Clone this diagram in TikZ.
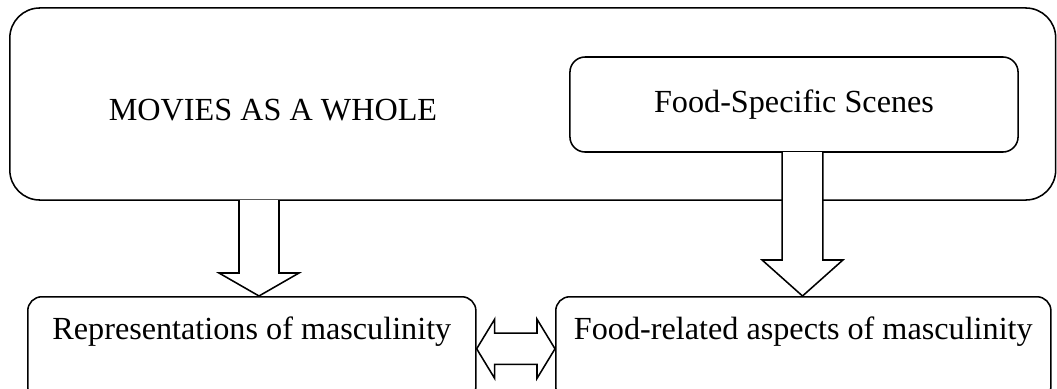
\documentclass[tikz,border=0pt]{standalone}
\usepackage{fontspec}
\setmainfont{Liberation Serif}
\usetikzlibrary{positioning, calc}
\tikzstyle{outer} = [rectangle, rounded corners=0.75cm, draw=black, line width=1.1pt, minimum width=26.14cm, minimum height=4.8cm, inner sep=0pt]
\tikzstyle{scenes} = [rectangle, rounded corners=0.38cm, draw=black, line width=1.1pt, minimum width=11.2cm, minimum height=2.375cm, inner sep=0pt]
\tikzstyle{result} = [rectangle, rounded corners=0.35cm, draw=black, line width=1.1pt, inner sep=0pt, text height=1.075cm, text depth=1.525cm, anchor=north west]
\tikzstyle{block_arrow} = [draw=black, fill=white, line width=1.1pt, line join=miter]
\newcommand{\blockdown}[5]{%
  \draw [block_arrow] let \p1 = (#1), \p2 = (#1 |- #2) in
    (\x1-#3, \y1) -- (\x1-#3, \y2+#5) -- (\x1-#4, \y2+#5) -- (\x1, \y2)
    -- (\x1+#4, \y2+#5) -- (\x1+#3, \y2+#5) -- (\x1+#3, \y1);
}

\begin{document}
\begin{tikzpicture}[x=0.025cm, y=-0.025cm, font=\fontsize{22.9}{27}\selectfont]

    \useasboundingbox (0,0) rectangle (1057,388);

    \node (whole) [outer] at (532.75,104) {};
    \node (wholelabel) at (273,110) {MOVIES AS A WHOLE};
    \node (scenes) [scenes] at (794,104.5) {Food-Specific Scenes};

    \node (rep) [result, minimum width=11.2cm] at (27,296) {Representations of masculinity};
    \node (food) [result, minimum width=12.375cm] at (555,296) {Food-related aspects of masculinity};

    \coordinate (wholeout) at (259,200);
    \coordinate (scenesout) at (802.5,152);

    \blockdown{wholeout}{rep.north}{0.5cm}{1.0cm}{0.575cm}
    \blockdown{scenesout}{food.north}{0.51cm}{1.01cm}{0.9cm}

    % two-way arrow between the results
    \draw [block_arrow] let \p1 = (rep.east), \p2 = (food.west) in
        (\x1, \y1) -- (\x1+0.45cm, \y1+0.74cm) -- (\x1+0.45cm, \y1+0.39cm)
        -- (\x2-0.45cm, \y1+0.39cm) -- (\x2-0.45cm, \y1+0.74cm) -- (\x2, \y1)
        -- (\x2-0.45cm, \y1-0.74cm) -- (\x2-0.45cm, \y1-0.39cm)
        -- (\x1+0.45cm, \y1-0.39cm) -- (\x1+0.45cm, \y1-0.74cm) -- cycle;

\end{tikzpicture}
\end{document}
